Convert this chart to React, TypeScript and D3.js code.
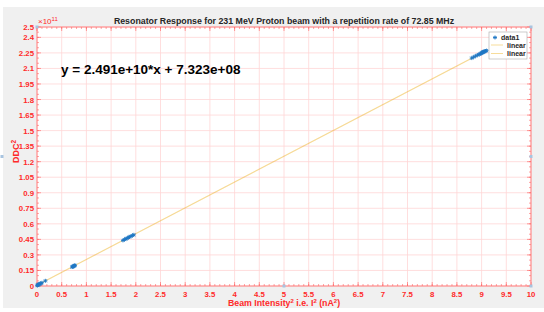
import React from "react";
import * as d3 from "d3";

const W = 544;
const H = 312;

const titleText = "Resonator Response for 231 MeV Proton beam with a repetition rate of 72.85 MHz";
const fitText = "y = 2.491e+10*x + 7.323e+08";
const xTicks = [0, 0.5, 1, 1.5, 2, 2.5, 3, 3.5, 4, 4.5, 5, 5.5, 6, 6.5, 7, 7.5, 8, 8.5, 9, 9.5, 10];
const yTicks = [0, 0.15, 0.3, 0.45, 0.6, 0.75, 0.9, 1.05, 1.2, 1.35, 1.5, 1.65, 1.8, 1.95, 2.1, 2.25, 2.4, 2.5];

// data in units: x = nA^2, y = 1e11
const dataX = [
  0.005, 0.01, 0.02, 0.03, 0.04, 0.05, 0.06, 0.08, 0.1,
  0.17,
  0.71, 0.72, 0.73, 0.74, 0.75, 0.76, 0.77,
  1.74, 1.77, 1.8, 1.82, 1.85, 1.87, 1.9, 1.93, 1.96,
  8.8, 8.84, 8.88, 8.92, 8.95, 8.97, 8.99, 9.0, 9.01, 9.02, 9.03, 9.04, 9.05, 9.06, 9.08, 9.1,
];
const dataY = [
  0.004, 0.008, 0.011, 0.013, 0.016, 0.018, 0.021, 0.026, 0.031,
  0.05,
  0.183, 0.186, 0.189, 0.191, 0.194, 0.197, 0.2,
  0.44, 0.448, 0.455, 0.46, 0.468, 0.473, 0.48, 0.487, 0.494,
  2.2, 2.21, 2.22, 2.23, 2.235, 2.24, 2.245, 2.25, 2.252, 2.255, 2.258, 2.26, 2.262, 2.265, 2.268, 2.272,
];
const fitX = [0, 9.1];
const fitY = [0.0073, 2.274];

const red = "#ff2a2a";
const font = "'Liberation Sans', Arial, sans-serif";

export default function App() {
  const left = 37, right = 531, top = 27, bottom = 286;
  const x = d3.scaleLinear().domain([0, 10]).range([left, right]);
  const y = d3.scaleLinear().domain([0, 2.5]).range([bottom, top]);
  const line = d3.line<number>().x((d) => x(fitX[d])).y((d) => y(fitY[d]));

  const xMinor = d3.range(0, 10.0001, 0.1);
  const yMinor = d3.range(0, 2.5001, 0.05);

  const handles = [
    [left, top], [right, top], [right, (top + bottom) / 2], [(left + right) / 2, bottom], [right, bottom], [2, (top + bottom) / 2],
  ];

  const star = (cx: number, cy: number, k: number) => (
    <g key={k} stroke="#1f77c4" strokeWidth={0.9}>
      <line x1={cx - 2} y1={cy} x2={cx + 2} y2={cy} />
      <line x1={cx} y1={cy - 2} x2={cx} y2={cy + 2} />
      <line x1={cx - 1.5} y1={cy - 1.5} x2={cx + 1.5} y2={cy + 1.5} />
      <line x1={cx - 1.5} y1={cy + 1.5} x2={cx + 1.5} y2={cy - 1.5} />
    </g>
  );

  return (
    <svg width={W} height={H} style={{ position: "absolute", left: 0, top: 0 }} fontFamily={font}>
      <rect x={0} y={0} width={W} height={H} fill="#ffffff" />
      <rect x={3} y={7} width={W - 3} height={301} fill="#f0f0f0" />
      <rect x={left} y={top} width={right - left} height={bottom - top} fill="#ffffff" />
      {/* grid */}
      <g stroke="#ffd6d6" strokeWidth={0.8}>
        {xTicks.map((t) => (
          <line key={"gx" + t} x1={x(t)} x2={x(t)} y1={top} y2={bottom} />
        ))}
        {yTicks.map((t) => (
          <line key={"gy" + t} x1={left} x2={right} y1={y(t)} y2={y(t)} />
        ))}
      </g>
      {/* ticks */}
      <g stroke={red} strokeWidth={0.6} opacity={0.7}>
        {xMinor.map((t, i) => (
          <g key={"xm" + i}>
            <line x1={x(t)} x2={x(t)} y1={bottom} y2={bottom - 2} />
            <line x1={x(t)} x2={x(t)} y1={top} y2={top + 2} />
          </g>
        ))}
        {xTicks.map((t) => (
          <g key={"xt" + t}>
            <line x1={x(t)} x2={x(t)} y1={bottom} y2={bottom - 4} />
            <line x1={x(t)} x2={x(t)} y1={top} y2={top + 4} />
          </g>
        ))}
        {yMinor.map((t, i) => (
          <g key={"ym" + i}>
            <line x1={left} x2={left + 2} y1={y(t)} y2={y(t)} />
            <line x1={right} x2={right - 2} y1={y(t)} y2={y(t)} />
          </g>
        ))}
        {yTicks.map((t) => (
          <g key={"yt" + t}>
            <line x1={left} x2={left + 4} y1={y(t)} y2={y(t)} />
            <line x1={right} x2={right - 4} y1={y(t)} y2={y(t)} />
          </g>
        ))}
      </g>
      <rect x={left} y={top} width={right - left} height={bottom - top} fill="none" stroke="#ff6a6a" strokeWidth={0.8} />
      {/* tick labels */}
      <g fill={red} fontSize={7.8} fontWeight="bold">
        {xTicks.map((t) => (
          <text key={"xl" + t} x={x(t)} y={bottom + 11} textAnchor="middle">
            {String(t)}
          </text>
        ))}
        {yTicks.map((t) => (
          <text key={"yl" + t} x={left - 3} y={y(t) + 3} textAnchor="end">
            {String(t)}
          </text>
        ))}
      </g>
      <text x={left + 1} y={top - 3} fill={red} fontSize={8}>
        ×10<tspan fontSize={6} dy={-3}>11</tspan>
      </text>
      {/* fit lines */}
      <path d={line([0, 1]) || ""} stroke="#EDB120" strokeOpacity={0.35} strokeWidth={1.1} fill="none" />
      <path d={line([0, 1]) || ""} stroke="#EDB120" strokeOpacity={0.2} strokeWidth={1.1} fill="none" />
      {/* data */}
      {dataX.map((d, i) => star(x(d), y(dataY[i]), i))}
      {/* title */}
      <text x={(left + right) / 2} y={24} textAnchor="middle" fontSize={8.8} fontWeight="bold" fill="#262626">
        {titleText}
      </text>
      <text x={61} y={74} fontSize={13.5} fontWeight="bold" fill="#000">
        {fitText}
      </text>
      {/* axis labels */}
      <text x={(left + right) / 2} y={306} textAnchor="middle" fontSize={8.8} fontWeight="bold" fill={red}>
        Beam Intensity<tspan fontSize={6} dy={-3}>2</tspan>
        <tspan dy={3}> i.e. I</tspan>
        <tspan fontSize={6} dy={-3}>2</tspan>
        <tspan dy={3}> (nA</tspan>
        <tspan fontSize={6} dy={-3}>2</tspan>
        <tspan dy={3}>)</tspan>
      </text>
      <text transform={`translate(19,${(top + bottom) / 2 - 5}) rotate(-90)`} textAnchor="middle" fontSize={9} fontWeight="bold" fill={red}>
        DDC<tspan fontSize={6.5} dy={-3}>2</tspan>
      </text>
      {/* legend */}
      <g>
        <rect x={489} y={32} width={38} height={27} fill="#fff" stroke="#aaaaaa" strokeWidth={0.6} />
        {star(495, 37.5, 999)}
        <text x={501} y={40} fontSize={7} fontWeight="bold" fill="#262626">data1</text>
        <line x1={491} x2={503} y1={45} y2={45} stroke="#EDB120" strokeOpacity={0.45} />
        <text x={507} y={47.5} fontSize={7} fontWeight="bold" fill="#262626">linear</text>
        <line x1={491} x2={503} y1={53.5} y2={53.5} stroke="#EDB120" strokeOpacity={0.45} />
        <text x={507} y={56} fontSize={7} fontWeight="bold" fill="#262626">linear</text>
      </g>
      {/* selection handles */}
      {handles.map((h, i) => (
        <rect key={"h" + i} x={h[0] - 1.5} y={h[1] - 1.5} width={3} height={3} fill="#a8c4e0" />
      ))}
    </svg>
  );
}
